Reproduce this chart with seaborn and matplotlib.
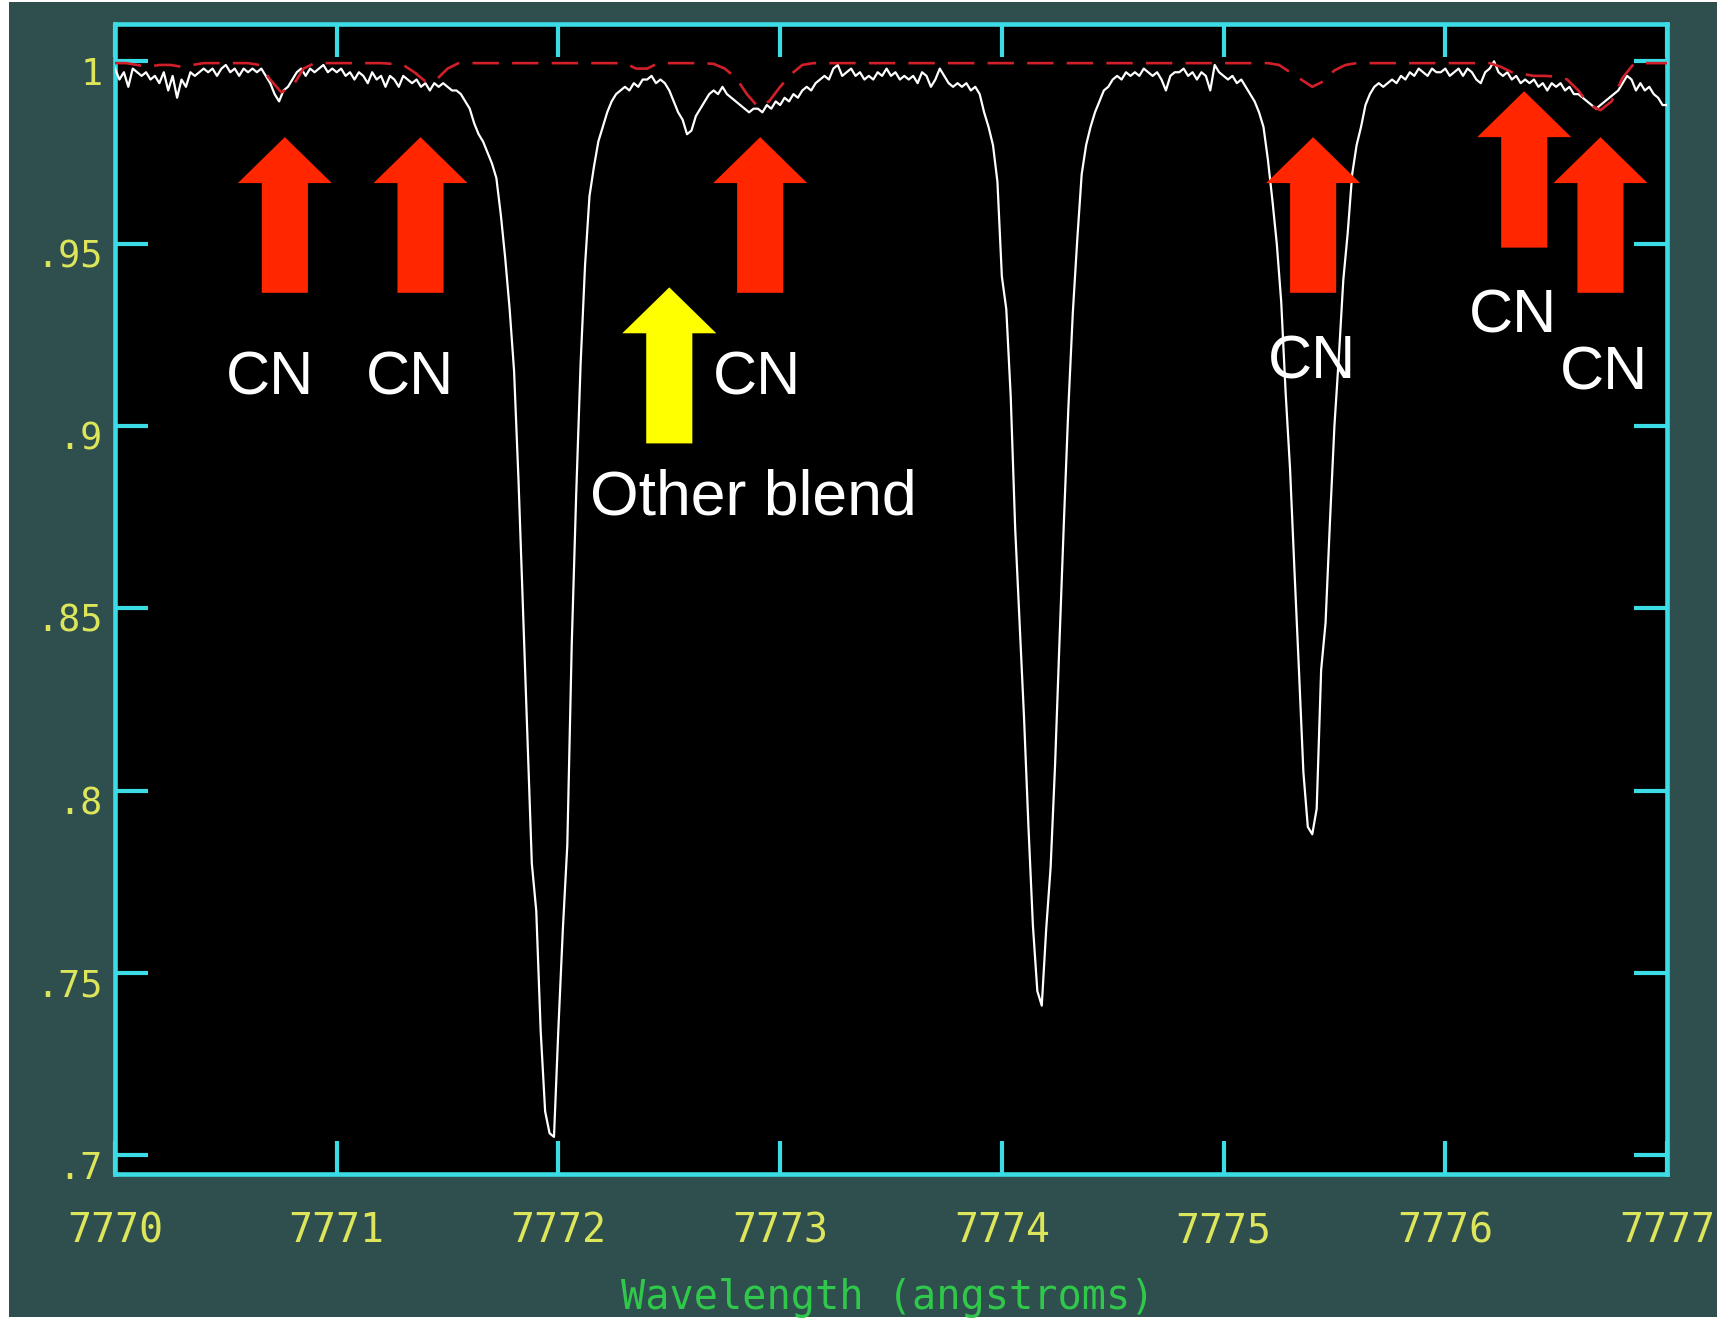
import numpy as np
import pandas as pd
import matplotlib
matplotlib.use("Agg")
import matplotlib.pyplot as plt
from matplotlib.patches import FancyArrow, Rectangle
from matplotlib.transforms import ScaledTranslation
import seaborn as sns

# Observed spectrum: normalised flux on 0.02 A pixels starting at 7770.00 A
obs_start = 7770.0
obs_step = 0.02
obs_flux = [
    0.998, 0.995, 0.997, 0.993, 0.998, 0.997, 0.996, 0.997, 0.995, 0.996,
    0.994, 0.997, 0.992, 0.996, 0.990, 0.995, 0.993, 0.997, 0.996, 0.997,
    0.998, 0.997, 0.998, 0.996, 0.998, 0.999, 0.997, 0.998, 0.996, 0.998,
    0.997, 0.998, 0.997, 0.998, 0.996, 0.994, 0.991, 0.989, 0.992, 0.993,
    0.995, 0.997, 0.998, 0.996, 0.998, 0.997, 0.998, 0.999, 0.997, 0.998,
    0.997, 0.998, 0.996, 0.997, 0.995, 0.997, 0.996, 0.994, 0.997, 0.995,
    0.996, 0.993, 0.996, 0.995, 0.993, 0.996, 0.995, 0.994, 0.995, 0.993,
    0.994, 0.992, 0.994, 0.993, 0.994, 0.993, 0.992, 0.992, 0.991, 0.989,
    0.987, 0.983, 0.980, 0.978, 0.975, 0.972, 0.968, 0.958, 0.946, 0.932,
    0.915, 0.885, 0.850, 0.815, 0.780, 0.767, 0.734, 0.712, 0.706, 0.705,
    0.735, 0.762, 0.785, 0.840, 0.881, 0.917, 0.944, 0.963, 0.971, 0.978,
    0.982, 0.986, 0.989, 0.991, 0.992, 0.993, 0.992, 0.994, 0.993, 0.995,
    0.995, 0.996, 0.994, 0.995, 0.994, 0.992, 0.989, 0.986, 0.984, 0.980,
    0.981, 0.985, 0.987, 0.989, 0.991, 0.992, 0.991, 0.993, 0.991, 0.990,
    0.989, 0.988, 0.987, 0.986, 0.987, 0.987, 0.986, 0.988, 0.987, 0.989,
    0.988, 0.990, 0.989, 0.991, 0.990, 0.992, 0.993, 0.992, 0.994, 0.995,
    0.996, 0.995, 0.998, 0.999, 0.996, 0.997, 0.998, 0.996, 0.997, 0.995,
    0.996, 0.995, 0.997, 0.996, 0.998, 0.996, 0.997, 0.995, 0.996, 0.995,
    0.996, 0.994, 0.997, 0.996, 0.993, 0.995, 0.998, 0.996, 0.994, 0.993,
    0.994, 0.993, 0.994, 0.992, 0.993, 0.991, 0.986, 0.982, 0.977, 0.967,
    0.941, 0.932, 0.908, 0.872, 0.846, 0.820, 0.790, 0.763, 0.745, 0.741,
    0.762, 0.779, 0.807, 0.841, 0.874, 0.905, 0.931, 0.951, 0.969, 0.977,
    0.982, 0.986, 0.989, 0.992, 0.993, 0.995, 0.996, 0.995, 0.997, 0.996,
    0.997, 0.996, 0.998, 0.997, 0.996, 0.997, 0.995, 0.992, 0.996, 0.997,
    0.997, 0.998, 0.996, 0.997, 0.995, 0.997, 0.996, 0.992, 0.999, 0.997,
    0.996, 0.995, 0.996, 0.994, 0.995, 0.993, 0.991, 0.989, 0.986, 0.982,
    0.973, 0.962, 0.950, 0.934, 0.909, 0.888, 0.860, 0.833, 0.805, 0.790,
    0.788, 0.795, 0.833, 0.846, 0.874, 0.900, 0.919, 0.940, 0.953, 0.969,
    0.977, 0.982, 0.988, 0.991, 0.993, 0.994, 0.993, 0.994, 0.995, 0.994,
    0.996, 0.995, 0.997, 0.996, 0.998, 0.997, 0.996, 0.998, 0.997, 0.997,
    0.998, 0.996, 0.997, 0.998, 0.996, 0.998, 0.997, 0.995, 0.994, 0.997,
    0.998, 1.000, 0.997, 0.996, 0.997, 0.995, 0.996, 0.994, 0.995, 0.994,
    0.995, 0.993, 0.994, 0.992, 0.994, 0.993, 0.994, 0.992, 0.993, 0.991,
    0.991, 0.990, 0.989, 0.988, 0.987, 0.988, 0.989, 0.990, 0.991, 0.992,
    0.994, 0.996, 0.995, 0.992, 0.994, 0.992, 0.993, 0.991, 0.990, 0.988,
    0.988,
]

# Synthetic spectrum with only CN lines, 0.05 A pixels starting at 7770.00 A
syn_start = 7770.0
syn_step = 0.05
syn_flux = [
    0.9995, 0.9995, 0.9990, 0.9985, 0.9990, 0.9990, 0.9985, 0.9990, 0.9995, 0.9995,
    0.9995, 0.9995, 0.9995, 0.9990, 0.9950, 0.9915, 0.9930, 0.9980, 0.9995, 0.9995,
    0.9995, 0.9995, 0.9995, 0.9995, 0.9995, 0.9993, 0.9990, 0.9970, 0.9945, 0.9950,
    0.9980, 0.9995, 0.9995, 0.9995, 0.9995, 0.9995, 0.9995, 0.9995, 0.9995, 0.9995,
    0.9995, 0.9995, 0.9995, 0.9995, 0.9995, 0.9995, 0.9995, 0.9980, 0.9980, 0.9995,
    0.9995, 0.9995, 0.9995, 0.9995, 0.9993, 0.9980, 0.9955, 0.9910, 0.9875, 0.9890,
    0.9930, 0.9965, 0.9990, 0.9995, 0.9995, 0.9995, 0.9995, 0.9995, 0.9995, 0.9995,
    0.9995, 0.9995, 0.9995, 0.9995, 0.9995, 0.9995, 0.9995, 0.9995, 0.9995, 0.9995,
    0.9995, 0.9995, 0.9995, 0.9995, 0.9995, 0.9995, 0.9995, 0.9995, 0.9995, 0.9995,
    0.9995, 0.9995, 0.9995, 0.9995, 0.9995, 0.9995, 0.9995, 0.9995, 0.9995, 0.9995,
    0.9995, 0.9995, 0.9995, 0.9995, 0.9995, 0.9990, 0.9970, 0.9950, 0.9930, 0.9945,
    0.9975, 0.9990, 0.9995, 0.9995, 0.9995, 0.9995, 0.9995, 0.9995, 0.9995, 0.9995,
    0.9995, 0.9995, 0.9995, 0.9995, 0.9995, 0.9985, 0.9970, 0.9965, 0.9960, 0.9960,
    0.9958, 0.9950, 0.9920, 0.9880, 0.9866, 0.9890, 0.9955, 0.9993, 0.9995, 0.9995,
    0.9995,
]

x_ticks = [7770, 7771, 7772, 7773, 7774, 7775, 7776, 7777]
x_tick_labels = ["7770", "7771", "7772", "7773", "7774", "7775", "7776", "7777"]
y_ticks = [0.70, 0.75, 0.80, 0.85, 0.90, 0.95, 1.00]
y_tick_labels = [".7", ".75", ".8", ".85", ".9", ".95", "1"]

# CN features: arrow wavelength, arrow tip and tail flux, label position
cn_wave = [7770.766, 7771.378, 7772.910, 7775.404, 7776.356, 7776.700]
cn_tip = [0.9792, 0.9792, 0.9792, 0.9792, 0.9918, 0.9792]
cn_tail = [0.9365, 0.9365, 0.9365, 0.9365, 0.9489, 0.9365]
cn_label_wave = [7770.70, 7771.33, 7772.895, 7775.40, 7776.305, 7776.715]
cn_label_flux = [0.9087, 0.9087, 0.9087, 0.9129, 0.9255, 0.9099]
cn_text = "CN"

# Unidentified blend
blend_wave = 7772.50
blend_tip = 0.9380
blend_tail = 0.8952
blend_label_wave = 7772.88
blend_label_flux = 0.8757
blend_text = "Other blend"

slate = "#2f4f4f"
cyan = "#3cdce6"
tick_yellow = "#dde65a"
label_green = "#2fc84a"
arrow_red = "#ff2600"
arrow_yellow = "#ffff00"

obs = pd.DataFrame({
    "wavelength": obs_start + obs_step * np.arange(len(obs_flux)),
    "flux": obs_flux,
})
syn = pd.DataFrame({
    "wavelength": syn_start + syn_step * np.arange(len(syn_flux)),
    "flux": syn_flux,
})

W, H = 1717, 1322
fig = plt.figure(figsize=(W / 100, H / 100), dpi=100)
fig.patch.set_facecolor("white")
fig.add_artist(Rectangle((9 / W, 5 / H), 1 - 9 / W, 1 - 7 / H,
                         transform=fig.transFigure, facecolor=slate,
                         edgecolor="none", zorder=0))

ax = fig.add_axes([115 / W, 1 - 1174 / H, 1552 / W, 1150 / H])
ax.set_facecolor("black")

sns.lineplot(data=obs, x="wavelength", y="flux", ax=ax, color="white",
             linewidth=1.6, zorder=3)
sns.lineplot(data=syn, x="wavelength", y="flux", ax=ax, color="#d21f2a",
             linewidth=1.9, linestyle=(0, (10, 5)), zorder=4)

ax.set_xlim(7770, 7777)
ax.set_ylim(0.69482, 1.01023)

for side in ["left", "right", "top", "bottom"]:
    ax.spines[side].set_color(cyan)
    ax.spines[side].set_linewidth(3.3)

ax.set_xticks(x_ticks)
ax.set_xticklabels(x_tick_labels)
ax.set_yticks(y_ticks)
ax.set_yticklabels(y_tick_labels)
ax.tick_params(axis="both", which="major", direction="in", length=24,
               width=3.0, color=cyan, top=True, right=True,
               labeltop=False, labelright=False, labelcolor=tick_yellow)
ax.tick_params(axis="x", pad=27, labelsize=28.7)
ax.tick_params(axis="y", pad=9, labelsize=26.5)
for lab in ax.get_xticklabels() + ax.get_yticklabels():
    lab.set_fontfamily("DejaVu Sans Mono")
shift = ScaledTranslation(0, -9 / 100, fig.dpi_scale_trans)
for lab in ax.get_yticklabels():
    lab.set_transform(lab.get_transform() + shift)

ax.set_ylabel("")
ax.set_xlabel("Wavelength (angstroms)", color=label_green, fontsize=29,
              fontfamily="DejaVu Sans Mono", va="baseline")
ax.xaxis.set_label_coords(0.498, -0.117)

head_w = 0.424
shaft_w = 0.208
head_l = 0.0126
for x, tip, tail in zip(cn_wave, cn_tip, cn_tail):
    ax.add_patch(FancyArrow(x, tail, 0, tip - tail, width=shaft_w,
                            head_width=head_w, head_length=head_l,
                            length_includes_head=True, color=arrow_red,
                            linewidth=0, zorder=5))
ax.add_patch(FancyArrow(blend_wave, blend_tail, 0, blend_tip - blend_tail,
                        width=shaft_w, head_width=head_w, head_length=head_l,
                        length_includes_head=True, color=arrow_yellow,
                        linewidth=0, zorder=5))

for x, y in zip(cn_label_wave, cn_label_flux):
    ax.text(x, y, cn_text, color="white", fontsize=44, ha="center",
            va="baseline", fontfamily="Liberation Sans", zorder=6)
ax.text(blend_label_wave, blend_label_flux, blend_text, color="white",
        fontsize=45, ha="center", va="baseline",
        fontfamily="Liberation Sans", zorder=6)

fig.savefig("out.png", dpi=100, facecolor=fig.get_facecolor())
